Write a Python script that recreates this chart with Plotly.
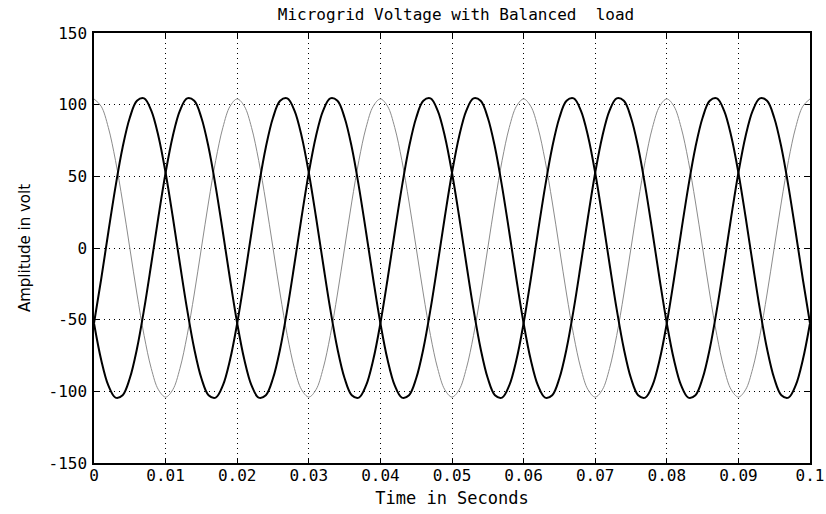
import plotly.graph_objects as go

# Sample spacing of the traces (seconds)
t_start = 0.0
t_step = 0.001

# Phase A (light grey trace) – peaks at 0, 0.02, 0.04, ...
phase_a = [
    104, 98.9, 84.1, 61.1, 32.1, 0, -32.1, -61.1, -84.1, -98.9,
    -104, -98.9, -84.1, -61.1, -32.1, 0, 32.1, 61.1, 84.1, 98.9,
    104, 98.9, 84.1, 61.1, 32.1, 0, -32.1, -61.1, -84.1, -98.9,
    -104, -98.9, -84.1, -61.1, -32.1, 0, 32.1, 61.1, 84.1, 98.9,
    104, 98.9, 84.1, 61.1, 32.1, 0, -32.1, -61.1, -84.1, -98.9,
    -104, -98.9, -84.1, -61.1, -32.1, 0, 32.1, 61.1, 84.1, 98.9,
    104, 98.9, 84.1, 61.1, 32.1, 0, -32.1, -61.1, -84.1, -98.9,
    -104, -98.9, -84.1, -61.1, -32.1, 0, 32.1, 61.1, 84.1, 98.9,
    104, 98.9, 84.1, 61.1, 32.1, 0, -32.1, -61.1, -84.1, -98.9,
    -104, -98.9, -84.1, -61.1, -32.1, 0, 32.1, 61.1, 84.1, 98.9,
    104,
]

# Phase B (black) – peaks near 0.0067, 0.0267, ...
phase_b = [
    -52.5, -21.8, 11.0, 42.7, 70.3, 90.9, 102.7, 104.4, 95.9, 78.0,
    52.5, 21.8, -11.0, -42.7, -70.3, -90.9, -102.7, -104.4, -95.9, -78.0,
    -52.5, -21.8, 11.0, 42.7, 70.3, 90.9, 102.7, 104.4, 95.9, 78.0,
    52.5, 21.8, -11.0, -42.7, -70.3, -90.9, -102.7, -104.4, -95.9, -78.0,
    -52.5, -21.8, 11.0, 42.7, 70.3, 90.9, 102.7, 104.4, 95.9, 78.0,
    52.5, 21.8, -11.0, -42.7, -70.3, -90.9, -102.7, -104.4, -95.9, -78.0,
    -52.5, -21.8, 11.0, 42.7, 70.3, 90.9, 102.7, 104.4, 95.9, 78.0,
    52.5, 21.8, -11.0, -42.7, -70.3, -90.9, -102.7, -104.4, -95.9, -78.0,
    -52.5, -21.8, 11.0, 42.7, 70.3, 90.9, 102.7, 104.4, 95.9, 78.0,
    52.5, 21.8, -11.0, -42.7, -70.3, -90.9, -102.7, -104.4, -95.9, -78.0,
    -52.5,
]

# Phase C (black) – peaks near 0.0133, 0.0333, ...
phase_c = [
    -52.5, -78.0, -95.9, -104.4, -102.7, -90.9, -70.3, -42.7, -11.0, 21.8,
    52.5, 78.0, 95.9, 104.4, 102.7, 90.9, 70.3, 42.7, 11.0, -21.8,
    -52.5, -78.0, -95.9, -104.4, -102.7, -90.9, -70.3, -42.7, -11.0, 21.8,
    52.5, 78.0, 95.9, 104.4, 102.7, 90.9, 70.3, 42.7, 11.0, -21.8,
    -52.5, -78.0, -95.9, -104.4, -102.7, -90.9, -70.3, -42.7, -11.0, 21.8,
    52.5, 78.0, 95.9, 104.4, 102.7, 90.9, 70.3, 42.7, 11.0, -21.8,
    -52.5, -78.0, -95.9, -104.4, -102.7, -90.9, -70.3, -42.7, -11.0, 21.8,
    52.5, 78.0, 95.9, 104.4, 102.7, 90.9, 70.3, 42.7, 11.0, -21.8,
    -52.5, -78.0, -95.9, -104.4, -102.7, -90.9, -70.3, -42.7, -11.0, 21.8,
    52.5, 78.0, 95.9, 104.4, 102.7, 90.9, 70.3, 42.7, 11.0, -21.8,
    -52.5,
]

x_tick_vals = [0, 0.01, 0.02, 0.03, 0.04, 0.05, 0.06, 0.07, 0.08, 0.09, 0.1]
x_tick_text = ["0", "0.01", "0.02", "0.03", "0.04", "0.05", "0.06", "0.07", "0.08", "0.09", "0.1"]
y_tick_vals = [-150, -100, -50, 0, 50, 100, 150]
y_tick_text = ["-150", "-100", "-50", "0", "50", "100", "150"]

title_text = "Microgrid Voltage with Balanced  load"
x_title = "Time in Seconds"
y_title = "Amplitude in volt"

MONO = "DejaVu Sans Mono, monospace"
SANS = "DejaVu Sans, sans-serif"

FIG_W, FIG_H = 826, 514

fig = go.Figure()
fig.add_trace(go.Scatter(y=phase_a, x0=t_start, dx=t_step, mode="lines",
                         line=dict(color="#8c8c8c", width=1, shape="spline"),
                         showlegend=False))
fig.add_trace(go.Scatter(y=phase_b, x0=t_start, dx=t_step, mode="lines",
                         line=dict(color="black", width=2, shape="spline"),
                         showlegend=False))
fig.add_trace(go.Scatter(y=phase_c, x0=t_start, dx=t_step, mode="lines",
                         line=dict(color="black", width=2, shape="spline"),
                         showlegend=False))

axis_common = dict(
    showline=True, linecolor="black", linewidth=1.5, mirror="ticks",
    ticks="inside", ticklen=5, tickcolor="black",
    showgrid=True, gridcolor="black", gridwidth=1, griddash="1px,4px",
    zeroline=False, automargin=False,
    tickfont=dict(family=MONO, size=16, color="black"),
)

fig.update_layout(
    width=FIG_W, height=FIG_H,
    margin=dict(l=94, r=16, t=33, b=51),
    paper_bgcolor="white", plot_bgcolor="white",
    font=dict(family=MONO, color="black"),
    title=dict(text=title_text, x=456 / FIG_W, xref="container", xanchor="center",
               y=1 - 14 / FIG_H, yref="container", yanchor="middle",
               font=dict(family=MONO, size=16, color="black")),
    xaxis=dict(range=[0, 0.1], tickvals=x_tick_vals, ticktext=x_tick_text,
               ticklabelstandoff=-3,
               title=dict(text=x_title, standoff=8,
                          font=dict(family=MONO, size=17, color="black")),
               **axis_common),
    yaxis=dict(range=[-150, 150], tickvals=y_tick_vals, ticktext=y_tick_text,
               ticklabelstandoff=2,
               title=dict(text=y_title, standoff=14,
                          font=dict(family=SANS, size=15, color="black")),
               **axis_common),
)

# remove the browser's default 8px page margin so the figure fills the window
fig.write_html("out.html", config={"displayModeBar": False},
               post_script="document.body.style.margin='0px';")
